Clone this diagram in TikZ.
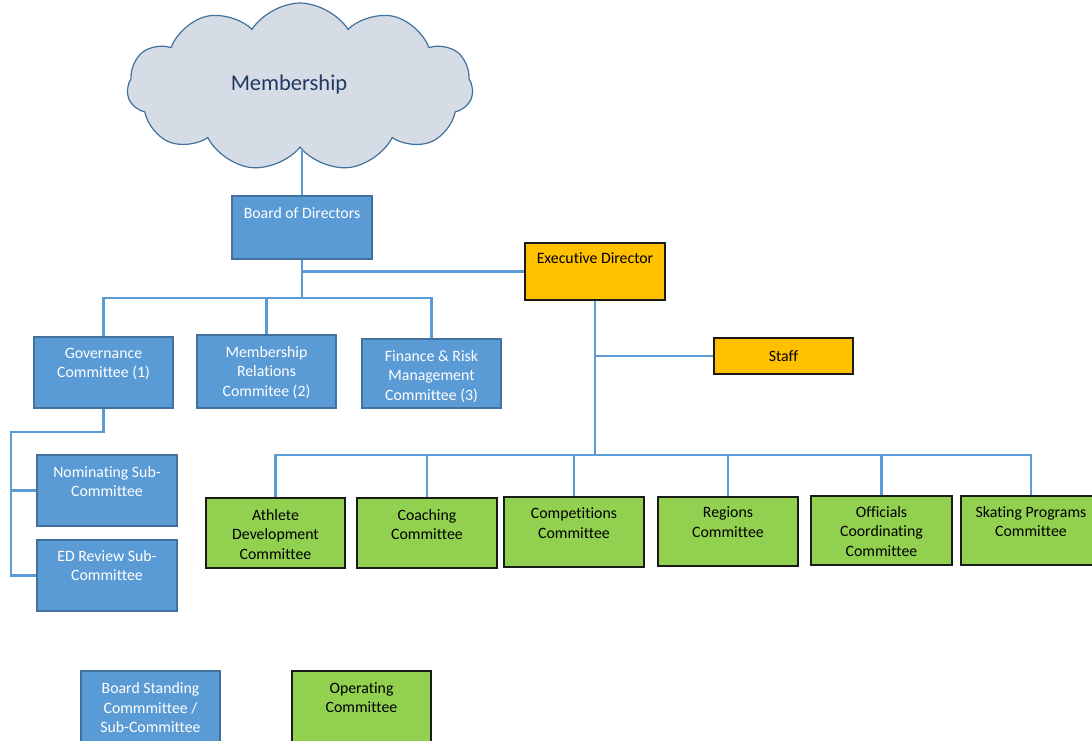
\documentclass[tikz,border=0pt]{standalone}
\usepackage{fontspec}
\setmainfont{Carlito}[Ligatures=NoCommon]
\usetikzlibrary{shapes.symbols,calc}
\definecolor{bfill}{HTML}{5B9BD5}
\definecolor{bline}{HTML}{41719C}
\definecolor{lcol}{HTML}{5B9BD5}
\definecolor{gfill}{HTML}{92D050}
\definecolor{ofill}{HTML}{FFC000}
\definecolor{dark}{HTML}{1A1A1A}
\definecolor{cfill}{HTML}{D6DCE5}
\definecolor{ctext}{HTML}{1F3864}
\tikzset{
  box/.style={draw, line width=1.3pt, inner sep=0pt, rectangle},
  bluebox/.style={box, fill=bfill, draw=bline},
  greenbox/.style={box, fill=gfill, draw=dark},
  orangebox/.style={box, fill=ofill, draw=dark},
  lbl/.style={anchor=north, inner sep=0pt, align=center, font=\fontsize{15.8}{19.5}\selectfont},
  wlbl/.style={lbl, text=white},
  conn/.style={draw=lcol, line width=2.4pt}
}
\begin{document}
\begin{tikzpicture}[x=1pt,y=-1pt]
\useasboundingbox (0,0) rectangle (1092,740);
% cloud
\node[cloud, cloud puffs=11, cloud puff arc=115, aspect=2.1, draw=bline, fill=cfill, line width=1.2pt,
      minimum width=346pt, minimum height=168pt, inner sep=0pt] (mem) at (300,87) {};
\node[text=ctext, font=\fontsize{22.5}{26}\selectfont, inner sep=0pt] (memt) at (289,84) {Membership};
% boxes
\node[bluebox, minimum width=140pt, minimum height=63pt] (board) at (302,227.5) {};
\node[wlbl] (boardt) at ($(board.north)+(0,11.5)$) {Board of Directors};
\node[bluebox, minimum width=139pt, minimum height=71pt] (gov) at (103.5,372.5) {};
\node[wlbl] (govt) at ($(gov.north)+(0,11.5)$) {Governance\\Committee (1)};
\node[bluebox, minimum width=139pt, minimum height=73pt] (memrel) at (266.5,371.5) {};
\node[wlbl] (memrelt) at ($(memrel.north)+(0,11.5)$) {Membership\\Relations\\Commitee (2)};
\node[bluebox, minimum width=139pt, minimum height=69pt] (fin) at (431.5,373.5) {};
\node[wlbl] (fint) at ($(fin.north)+(0,11.5)$) {Finance \& Risk\\Management\\Committee (3)};
\node[bluebox, minimum width=140pt, minimum height=71pt] (nom) at (107,490.5) {};
\node[wlbl] (nomt) at ($(nom.north)+(0,11.5)$) {Nominating Sub-\\Committee};
\node[bluebox, minimum width=140pt, minimum height=71pt] (edr) at (107,575.5) {};
\node[wlbl] (edrt) at ($(edr.north)+(0,10.5)$) {ED Review Sub-\\Committee};
\node[orangebox, minimum width=140pt, minimum height=57pt] (exec) at (595,271.5) {};
\node[lbl] (exect) at ($(exec.north)+(0,10.5)$) {Executive Director};
\node[orangebox, minimum width=139pt, minimum height=36pt, font=\fontsize{15.8}{19.5}\selectfont] (staff) at (783.5,356) {Staff};
\node[greenbox, minimum width=139pt, minimum height=70pt] (ath) at (275.5,533) {};
\node[lbl] (atht) at ($(ath.north)+(0,11.5)$) {Athlete\\Development\\Committee};
\node[greenbox, minimum width=140pt, minimum height=70pt] (coach) at (427,533) {};
\node[lbl] (coacht) at ($(coach.north)+(0,11.5)$) {Coaching\\Committee};
\node[greenbox, minimum width=140pt, minimum height=70pt] (comp) at (574,532) {};
\node[lbl] (compt) at ($(comp.north)+(0,11.5)$) {Competitions\\Committee};
\node[greenbox, minimum width=140pt, minimum height=69pt] (reg) at (728,531.5) {};
\node[lbl] (regt) at ($(reg.north)+(0,10.5)$) {Regions\\Committee};
\node[greenbox, minimum width=141pt, minimum height=69pt] (off) at (881.5,530.5) {};
\node[lbl] (offt) at ($(off.north)+(0,10.5)$) {Officials\\Coordinating\\Committee};
\node[greenbox, minimum width=140pt, minimum height=69pt] (skate) at (1031,530.5) {};
\node[lbl] (skatet) at ($(skate.north)+(0,10.5)$) {Skating Programs\\Committee};
% legend
\node[bluebox, minimum width=139pt, minimum height=79pt] (legb) at (150.5,710.5) {};
\node[wlbl] (legbt) at ($(legb.north)+(0,12)$) {Board Standing\\Commmittee /\\Sub-Committee};
\node[greenbox, minimum width=139pt, minimum height=79pt] (lego) at (361.5,710.5) {};
\node[lbl] (legot) at ($(lego.north)+(0,12)$) {Operating\\Committee};
% connectors
\coordinate (busA) at (302,298);
\coordinate (subL) at (11,432);
\coordinate (busB) at (595,455);
\draw[conn] (board.north) -- (board.north |- mem.south);
\draw[conn] (board.south) -- (busA);
\draw[conn] (busA) -| (gov.north);
\draw[conn] (busA) -| (memrel.north);
\draw[conn] (busA) -| (fin.north);
\draw[conn] (board.south |- exec.west) -- (exec.west);
\draw[conn] (gov.south) |- (subL) -- (subL |- edr.west) -- (edr.west);
\draw[conn] (subL |- nom.west) -- (nom.west);
\draw[conn] (exec.south) -- (busB);
\draw[conn] (exec.south |- staff.west) -- (staff.west);
\foreach \n in {ath,coach,comp,reg,off,skate}{
  \draw[conn] (busB) -| (\n.north);
}
\end{tikzpicture}
\end{document}
